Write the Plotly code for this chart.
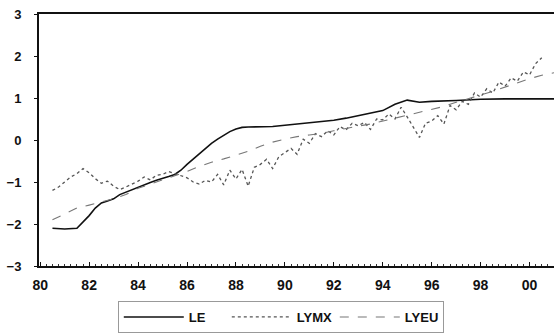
import plotly.graph_objects as go

# ---- data ----
le_x = [1980.50, 1981.00, 1981.50, 1981.75, 1982.00, 1982.25, 1982.50, 1982.75,
        1983.00, 1983.25, 1983.50, 1983.75, 1984.00, 1984.25, 1984.50, 1984.75,
        1985.00, 1985.25, 1985.50, 1985.75, 1986.00, 1986.25, 1986.50, 1986.75,
        1987.00, 1987.25, 1987.50, 1987.75, 1988.00, 1988.25, 1988.50, 1989.00,
        1989.50, 1990.00, 1990.50, 1991.00, 1991.50, 1992.00, 1992.50, 1993.00,
        1993.50, 1994.00, 1994.50, 1995.00, 1995.50, 1996.00, 1997.00, 1998.00,
        1999.00, 2000.00, 2001.00]
le_y = [-2.10, -2.12, -2.10, -1.95, -1.80, -1.62, -1.50, -1.45,
        -1.40, -1.30, -1.24, -1.18, -1.12, -1.06, -1.01, -0.96,
        -0.92, -0.87, -0.82, -0.72, -0.58, -0.45, -0.32, -0.20,
        -0.08, 0.02, 0.12, 0.20, 0.26, 0.30, 0.31, 0.31,
        0.32, 0.35, 0.38, 0.40, 0.43, 0.47, 0.52, 0.58,
        0.64, 0.70, 0.85, 0.95, 0.90, 0.92, 0.94, 0.97,
        0.98, 0.98, 0.98]

lymx_x = [1980.50, 1980.75, 1981.00, 1981.25, 1981.50, 1981.75, 1982.00, 1982.25,
          1982.50, 1982.75, 1983.00, 1983.25, 1983.50, 1983.75, 1984.00, 1984.25,
          1984.50, 1984.75, 1985.00, 1985.25, 1985.50, 1985.75, 1986.00, 1986.25,
          1986.50, 1986.75, 1987.00, 1987.25, 1987.50, 1987.75, 1988.00, 1988.25,
          1988.50, 1988.75, 1989.00, 1989.25, 1989.50, 1989.75, 1990.00, 1990.25,
          1990.50, 1990.75, 1991.00, 1991.25, 1991.50, 1991.75, 1992.00, 1992.25,
          1992.50, 1992.75, 1993.00, 1993.25, 1993.50, 1993.75, 1994.00, 1994.25,
          1994.50, 1994.75, 1995.00, 1995.25, 1995.50, 1995.75, 1996.00, 1996.25,
          1996.50, 1996.75, 1997.00, 1997.25, 1997.50, 1997.75, 1998.00, 1998.25,
          1998.50, 1998.75, 1999.00, 1999.25, 1999.50, 1999.75, 2000.00, 2000.25,
          2000.50]
lymx_y = [-1.20, -1.12, -1.00, -0.88, -0.80, -0.68, -0.78, -0.92,
          -1.03, -0.98, -1.10, -1.18, -1.12, -1.05, -0.98, -0.88,
          -0.95, -0.84, -0.82, -0.75, -0.80, -0.86, -0.90, -1.00,
          -1.05, -0.96, -1.00, -0.82, -1.07, -0.72, -0.93, -0.70,
          -1.10, -0.65, -0.58, -0.46, -0.68, -0.40, -0.30, -0.20,
          -0.34, 0.02, -0.08, 0.15, 0.08, 0.22, 0.12, 0.32,
          0.24, 0.40, 0.34, 0.42, 0.25, 0.50, 0.48, 0.62,
          0.50, 0.78, 0.55, 0.30, 0.06, 0.40, 0.45, 0.58,
          0.38, 0.82, 0.72, 0.92, 0.85, 1.12, 1.02, 1.22,
          1.12, 1.38, 1.28, 1.48, 1.40, 1.62, 1.55, 1.82,
          1.96]

lyeu_x = [1980.50, 1981.00, 1981.50, 1982.00, 1982.50, 1983.00, 1983.50, 1984.00,
          1984.50, 1985.00, 1985.50, 1986.00, 1986.50, 1987.00, 1987.50, 1988.00,
          1988.50, 1989.00, 1989.50, 1990.00, 1990.50, 1991.00, 1991.50, 1992.00,
          1992.50, 1993.00, 1993.50, 1994.00, 1994.50, 1995.00, 1995.50, 1996.00,
          1996.50, 1997.00, 1997.50, 1998.00, 1998.50, 1999.00, 1999.50, 2000.00,
          2000.50, 2001.00]
lyeu_y = [-1.90, -1.75, -1.62, -1.55, -1.48, -1.40, -1.30, -1.15,
          -1.05, -0.95, -0.85, -0.75, -0.63, -0.53, -0.45, -0.36,
          -0.27, -0.15, -0.05, 0.02, 0.08, 0.12, 0.16, 0.22,
          0.28, 0.33, 0.38, 0.45, 0.52, 0.58, 0.65, 0.72,
          0.80, 0.90, 0.98, 1.07, 1.16, 1.26, 1.36, 1.46,
          1.54, 1.60]

x_tickvals = [1980, 1982, 1984, 1986, 1988, 1990, 1992, 1994, 1996, 1998, 2000]
x_ticktext = ["80", "82", "84", "86", "88", "90", "92", "94", "96", "98", "00"]
y_tickvals = [-3, -2, -1, 0, 1, 2, 3]

FONT = "Liberation Sans, Arial, sans-serif"

fig = go.Figure()
fig.add_trace(go.Scatter(x=le_x, y=le_y, name="LE", mode="lines",
                         line=dict(color="#111111", width=1.6)))
fig.add_trace(go.Scatter(x=lymx_x, y=lymx_y, name="LYMX", mode="lines",
                         line=dict(color="#555555", width=1.3, dash="dot")))
fig.add_trace(go.Scatter(x=lyeu_x, y=lyeu_y, name="LYEU", mode="lines",
                         line=dict(color="#777777", width=1.1, dash="dash")))

fig.update_layout(
    width=554, height=333,
    margin=dict(l=39, r=0, t=14, b=62),
    paper_bgcolor="white", plot_bgcolor="white",
    font=dict(family=FONT, size=11, color="#111111"),
    showlegend=True,
    legend=dict(orientation="h", x=0.153, xanchor="left", y=-0.14, yanchor="top",
                bordercolor="#999999", borderwidth=1,
                entrywidth=33, entrywidthmode="pixels", itemwidth=60,
                font=dict(family=FONT, size=13, color="#111111", weight="bold")),
    xaxis=dict(range=[1979.95, 2001.0], tickvals=x_tickvals, ticktext=x_ticktext,
               showgrid=False, zeroline=False, showline=True, linecolor="#111111",
               linewidth=1.5, mirror=True, ticks="inside", ticklen=4,
               tickcolor="#111111", ticklabelstandoff=5,
               minor=dict(dtick=0.25, ticks="inside", ticklen=2, tickcolor="#333333"),
               tickfont=dict(family=FONT, size=14, color="#111111", weight="bold")),
    yaxis=dict(range=[-3, 3], tickvals=y_tickvals, showgrid=False, zeroline=False,
               showline=True, linecolor="#111111", linewidth=2,
               ticks="outside", ticklen=3, tickcolor="#111111", ticklabelstandoff=10,
               tickfont=dict(family=FONT, size=13, color="#111111", weight="bold")),
)

fig.write_html("out.html")
